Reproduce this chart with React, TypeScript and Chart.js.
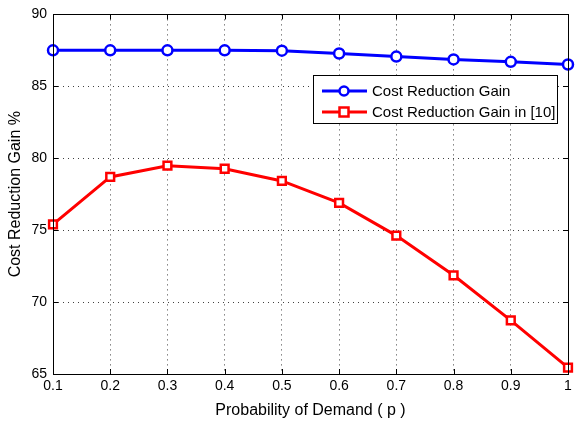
import React, { useEffect, useRef } from "react";
import { Chart, registerables } from "chart.js";

Chart.register(...registerables);

const demandP = [0.1, 0.2, 0.3, 0.4, 0.5, 0.6, 0.7, 0.8, 0.9, 1.0];
const xTickLabels = ["0.1", "0.2", "0.3", "0.4", "0.5", "0.6", "0.7", "0.8", "0.9", "1"];
const gainProposed = [87.5, 87.5, 87.5, 87.5, 87.48, 87.28, 87.07, 86.87, 86.7, 86.52];
const gainRef10 = [75.4, 78.7, 79.48, 79.27, 78.42, 76.9, 74.62, 71.86, 68.73, 65.44];
const seriesNames = ["Cost Reduction Gain", "Cost Reduction Gain in [10]"];

const FONT = "'Liberation Sans', Arial, sans-serif";

const framePlugin = {
  id: "frameTicks",
  afterDatasetsDraw(chart: any) {
    const { ctx, chartArea: a, scales } = chart;
    ctx.save();
    ctx.strokeStyle = "#000";
    ctx.lineWidth = 1;
    const tl = 5;
    ctx.beginPath();
    scales.x.ticks.forEach((t: any) => {
      const px = Math.round(scales.x.getPixelForValue(t.value)) + 0.5;
      ctx.moveTo(px, a.bottom);
      ctx.lineTo(px, a.bottom - tl);
      ctx.moveTo(px, a.top);
      ctx.lineTo(px, a.top + tl);
    });
    scales.y.ticks.forEach((t: any) => {
      const py = Math.round(scales.y.getPixelForValue(t.value)) + 0.5;
      ctx.moveTo(a.left, py);
      ctx.lineTo(a.left + tl, py);
      ctx.moveTo(a.right, py);
      ctx.lineTo(a.right - tl, py);
    });
    ctx.stroke();
    ctx.strokeRect(Math.round(a.left) + 0.5, Math.round(a.top) + 0.5, Math.round(a.right - a.left), Math.round(a.bottom - a.top));
    ctx.restore();
  },
};

const legendPlugin = {
  id: "insideLegend",
  afterDraw(chart: any) {
    const { ctx } = chart;
    const bx = 313, by = 75, bw = 244, bh = 48;
    ctx.save();
    ctx.fillStyle = "#fff";
    ctx.fillRect(bx, by, bw, bh);
    ctx.strokeStyle = "#000";
    ctx.lineWidth = 1;
    ctx.strokeRect(bx + 0.5, by + 0.5, bw, bh);
    const rows = [
      { y: 91, color: "#0000ff", style: "circle" },
      { y: 112, color: "#ff0000", style: "rect" },
    ];
    rows.forEach((r, i) => {
      ctx.strokeStyle = r.color;
      ctx.lineWidth = 3;
      ctx.beginPath();
      ctx.moveTo(322, r.y);
      ctx.lineTo(367, r.y);
      ctx.stroke();
      ctx.fillStyle = "#fff";
      ctx.lineWidth = 2.5;
      ctx.beginPath();
      if (r.style === "circle") {
        ctx.arc(344, r.y, 4.5, 0, Math.PI * 2);
      } else {
        ctx.rect(339.5, r.y - 4.5, 9, 9);
      }
      ctx.fill();
      ctx.stroke();
      ctx.fillStyle = "#000";
      ctx.font = `15px ${FONT}`;
      ctx.textBaseline = "middle";
      ctx.textAlign = "left";
      ctx.fillText(seriesNames[i], 372, r.y + 1);
    });
    ctx.restore();
  },
};

export default function App() {
  const ref = useRef<HTMLCanvasElement>(null);
  useEffect(() => {
    document.body.style.margin = "0";
    const chart = new Chart(ref.current!, {
      type: "line",
      data: {
        datasets: [
          {
            label: seriesNames[0],
            data: demandP.map((x, i) => ({ x, y: gainProposed[i] })),
            borderColor: "#0000ff",
            backgroundColor: "#ffffff",
            borderWidth: 3,
            pointStyle: "circle",
            pointRadius: 5,
            pointBorderWidth: 2.5,
            pointBackgroundColor: "#ffffff",
            pointBorderColor: "#0000ff",
            clip: 8,
          },
          {
            label: seriesNames[1],
            data: demandP.map((x, i) => ({ x, y: gainRef10[i] })),
            borderColor: "#ff0000",
            backgroundColor: "#ffffff",
            borderWidth: 3,
            pointStyle: "rect",
            pointRadius: 5.5,
            pointBorderWidth: 2.5,
            pointBackgroundColor: "#ffffff",
            pointBorderColor: "#ff0000",
            clip: 8,
          },
        ],
      },
      options: {
        animation: false,
        responsive: false,
        layout: { padding: { left: 0, top: 12, right: 6, bottom: 0 } },
        plugins: { legend: { display: false }, tooltip: { enabled: false } },
        scales: {
          x: {
            type: "linear",
            min: 0.1,
            max: 1,
            ticks: {
              stepSize: 0.1,
              color: "#000",
              font: { family: FONT, size: 14 },
              padding: 4,
              maxRotation: 0,
              callback: (v: any) => {
                const idx = Math.round(Number(v) * 10) - 1;
                return xTickLabels[idx] ?? "";
              },
            },
            grid: { drawTicks: false, color: "rgba(0,0,0,0.75)", lineWidth: 1 },
            border: { display: false, dash: [1, 4] },
            title: {
              display: true,
              text: "Probability of Demand ( p )",
              color: "#000",
              font: { family: FONT, size: 16 },
              padding: { top: 4, bottom: 2 },
            },
            afterFit: (s: any) => { s.height = 48; },
          },
          y: {
            min: 65,
            max: 90,
            ticks: {
              stepSize: 5,
              color: "#000",
              font: { family: FONT, size: 14 },
              padding: 6,
            },
            grid: { drawTicks: false, color: "rgba(0,0,0,0.75)", lineWidth: 1 },
            border: { display: false, dash: [1, 4] },
            title: {
              display: true,
              text: "Cost Reduction Gain %",
              color: "#000",
              font: { family: FONT, size: 16 },
              padding: { top: 6, bottom: 4 },
            },
            afterFit: (s: any) => { s.width = 53; },
          },
        },
      },
      plugins: [framePlugin, legendPlugin],
    } as any);
    return () => chart.destroy();
  }, []);
  return (
    <div style={{ position: "absolute", left: 0, top: 0, width: 576, height: 422, background: "#fff" }}>
      <canvas ref={ref} width={576} height={422} style={{ width: 576, height: 422 }} />
    </div>
  );
}
